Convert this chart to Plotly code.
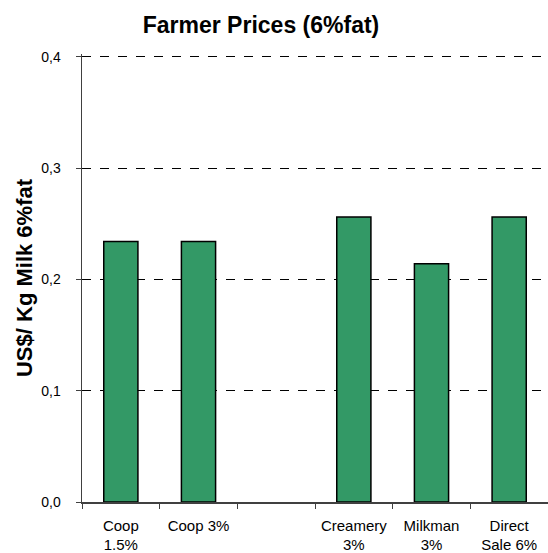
import plotly.graph_objects as go

categories = ["Coop<br>1.5%", "Coop 3%", " ", "Creamery<br>3%", "Milkman<br>3%", "Direct<br>Sale 6%"]
prices = [0.234, 0.234, None, 0.256, 0.214, 0.256]
y_ticks = [0.0, 0.1, 0.2, 0.3, 0.4]
y_tick_labels = ["0,0", "0,1", "0,2", "0,3", "0,4"]

fig = go.Figure(go.Bar(
    x=categories, y=prices,
    marker=dict(color="#339966", line=dict(color="#000000", width=1.5)),
    hoverinfo="skip",
))

fig.update_layout(
    width=548, height=553,
    margin=dict(l=82, r=0, t=54, b=51, autoexpand=False),
    paper_bgcolor="white", plot_bgcolor="white",
    font=dict(family="Liberation Sans, Arial, sans-serif", color="#000000", size=13),
    title=dict(text="<b>Farmer Prices (6%fat)</b>", x=261 / 548, xref="container", xanchor="center",
               y=1 - 25 / 553, yref="container", yanchor="middle", automargin=False,
               font=dict(size=23, family="Liberation Sans, Arial, sans-serif")),
    bargap=0.56,
    showlegend=False,
)

fig.update_xaxes(
    type="category", tickson="boundaries", ticks="outside", ticklen=5,
    tickcolor="#404040", showline=True, linecolor="#404040", linewidth=1.5,
    showgrid=False, tickfont=dict(size=15), fixedrange=True, automargin=False,
    ticklabelstandoff=9,
)
fig.update_yaxes(
    range=[0, 0.4025], tickvals=y_ticks, ticktext=y_tick_labels,
    ticks="outside", ticklen=5, tickcolor="#404040",
    showline=True, linecolor="#404040", linewidth=1.5,
    showgrid=True, gridcolor="#000000", griddash="dash", gridwidth=1,
    zeroline=False, tickfont=dict(size=14), automargin=False, fixedrange=True,
    ticklabelstandoff=12,
    title=dict(text="<b>US$/ Kg Milk 6%fat</b>", font=dict(size=22), standoff=2),
)

fig.write_html("out.html", config={"displayModeBar": False, "staticPlot": True},
               post_script="document.body.style.margin='0';document.body.style.overflow='hidden';")
